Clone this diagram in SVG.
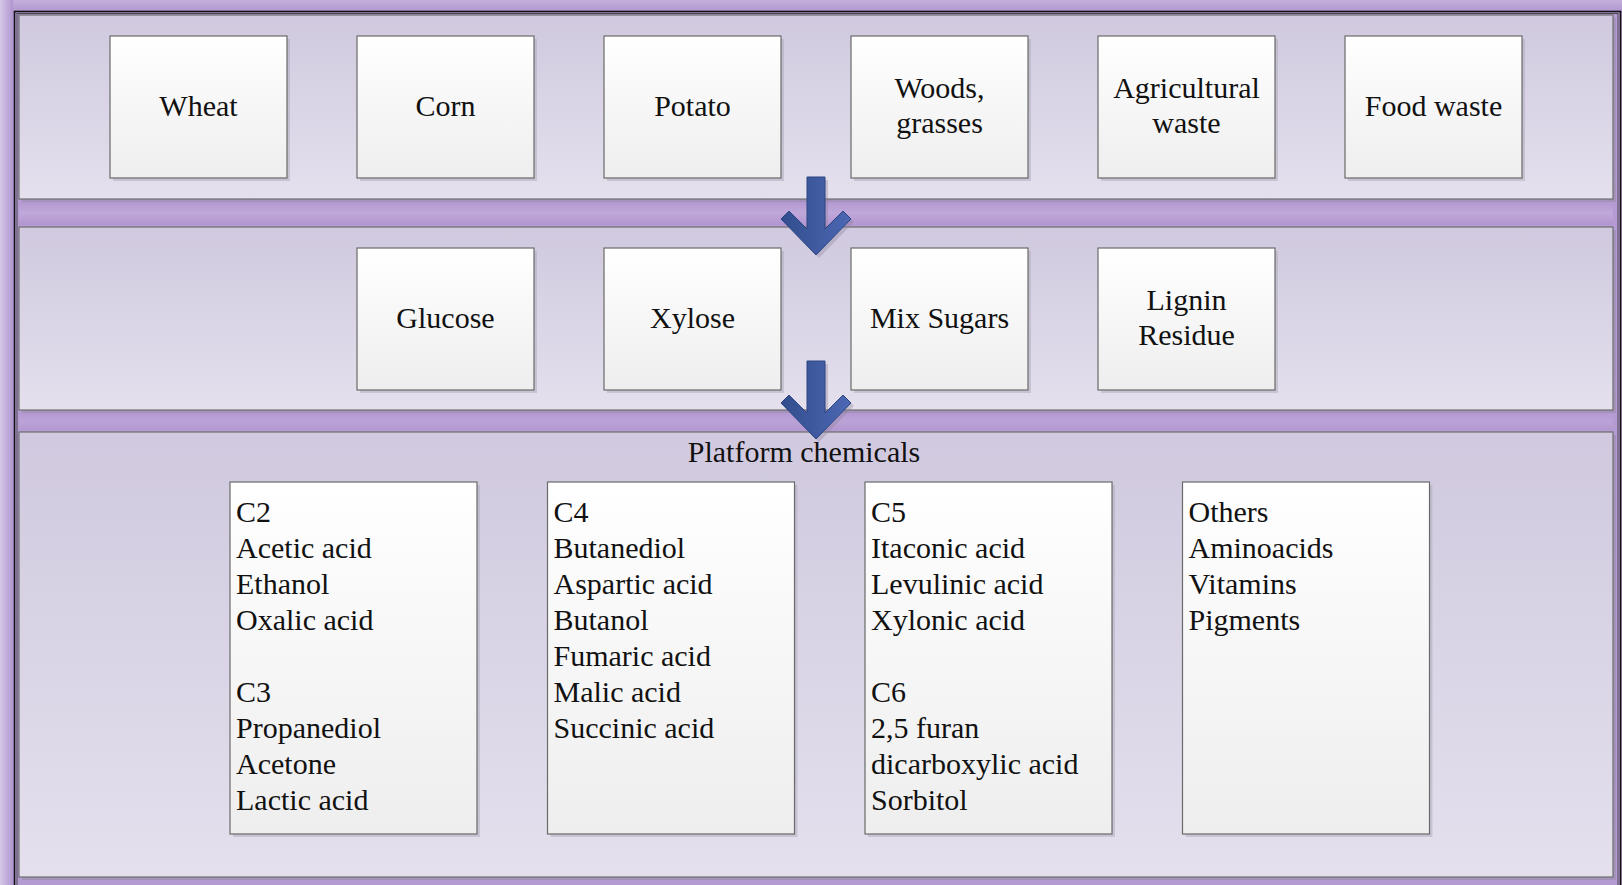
<svg xmlns="http://www.w3.org/2000/svg" width="1622" height="885" viewBox="0 0 1622 885">
<defs>
<linearGradient id="panelG" x1="0" y1="0" x2="0" y2="1"><stop offset="0" stop-color="#d0c9df"/><stop offset="1" stop-color="#e4e0ed"/></linearGradient>
<linearGradient id="boxG" x1="0" y1="0" x2="0" y2="1"><stop offset="0" stop-color="#ffffff"/><stop offset="1" stop-color="#eeeeee"/></linearGradient>
<linearGradient id="arrowG" x1="0" y1="0" x2="1" y2="0"><stop offset="0" stop-color="#324d8c"/><stop offset="1" stop-color="#4c68b4"/></linearGradient>
<linearGradient id="bandG" x1="0" y1="0" x2="0" y2="1"><stop offset="0" stop-color="#b296d0"/><stop offset="0.5" stop-color="#c0a8da"/><stop offset="1" stop-color="#b296d0"/></linearGradient>
<linearGradient id="leftG" x1="0" y1="0" x2="1" y2="0"><stop offset="0" stop-color="#d6c8e6"/><stop offset="1" stop-color="#b096d0"/></linearGradient>
<linearGradient id="topG" x1="0" y1="0" x2="0" y2="1"><stop offset="0" stop-color="#c4b0dc"/><stop offset="1" stop-color="#b298d0"/></linearGradient>
</defs>
<style>
.panel{fill:url(#panelG);stroke:#6e6e6e;stroke-width:1.2}
.pshadow{fill:#9a8cab;opacity:0.6}
.box{fill:url(#boxG);stroke:#6a6a6a;stroke-width:1.2}
.bshadow{fill:#a9a3b6;opacity:0.45}
.arrow{fill:url(#arrowG);stroke:#2c4580;stroke-width:1}
.ashadow{fill:#8a809c;opacity:0.35}
text{font-family:"Liberation Serif","Times New Roman",serif;font-size:30px;fill:#111}
.c{text-anchor:middle}
</style>
<!-- background -->
<rect x="0" y="0" width="1622" height="885" fill="#b49bd2"/>
<rect x="0" y="0" width="1622" height="11" fill="url(#topG)"/>
<rect x="0" y="0" width="13" height="885" fill="url(#leftG)"/>
<rect x="14.5" y="11.5" width="1606" height="880" fill="none" stroke="#111" stroke-width="1.6"/>
<rect x="17" y="13.5" width="1601" height="880" fill="none" stroke="#333" stroke-width="0.8"/>
<rect x="19" y="201" width="1594" height="24" fill="url(#bandG)"/>
<rect x="19" y="412" width="1594" height="18" fill="url(#bandG)" opacity="0.6"/>
<!-- panels -->
<g id="panel1"><rect class="pshadow" x="22" y="18" width="1594" height="184"/><rect class="panel" x="19" y="15" width="1594" height="184"/></g>
<g id="panel2"><rect class="pshadow" x="22" y="230" width="1594" height="183"/><rect class="panel" x="19" y="227" width="1594" height="183"/></g>
<g id="panel3"><rect class="pshadow" x="22" y="435" width="1594" height="445"/><rect class="panel" x="19" y="432" width="1594" height="445"/>
<text class="c" x="804" y="462">Platform chemicals</text></g>
<!-- row 1 -->
<g id="wheat"><rect class="bshadow" x="113" y="39" width="177" height="142"/><rect class="box" x="110" y="36" width="177" height="142"/><text class="c" x="198.5" y="116">Wheat</text></g>
<g id="corn"><rect class="bshadow" x="360" y="39" width="177" height="142"/><rect class="box" x="357" y="36" width="177" height="142"/><text class="c" x="445.5" y="116">Corn</text></g>
<g id="potato"><rect class="bshadow" x="607" y="39" width="177" height="142"/><rect class="box" x="604" y="36" width="177" height="142"/><text class="c" x="692.5" y="116">Potato</text></g>
<g id="woods"><rect class="bshadow" x="854" y="39" width="177" height="142"/><rect class="box" x="851" y="36" width="177" height="142"/><text class="c" x="939.5" y="98">Woods,</text><text class="c" x="939.5" y="133">grasses</text></g>
<g id="agri"><rect class="bshadow" x="1101" y="39" width="177" height="142"/><rect class="box" x="1098" y="36" width="177" height="142"/><text class="c" x="1186.5" y="98">Agricultural</text><text class="c" x="1186.5" y="133">waste</text></g>
<g id="food"><rect class="bshadow" x="1348" y="39" width="177" height="142"/><rect class="box" x="1345" y="36" width="177" height="142"/><text class="c" x="1433.5" y="116">Food waste</text></g>
<!-- row 2 -->
<g id="glucose"><rect class="bshadow" x="360" y="251" width="177" height="142"/><rect class="box" x="357" y="248" width="177" height="142"/><text class="c" x="445.5" y="328">Glucose</text></g>
<g id="xylose"><rect class="bshadow" x="607" y="251" width="177" height="142"/><rect class="box" x="604" y="248" width="177" height="142"/><text class="c" x="692.5" y="328">Xylose</text></g>
<g id="mix"><rect class="bshadow" x="854" y="251" width="177" height="142"/><rect class="box" x="851" y="248" width="177" height="142"/><text class="c" x="939.5" y="328">Mix Sugars</text></g>
<g id="lignin"><rect class="bshadow" x="1101" y="251" width="177" height="142"/><rect class="box" x="1098" y="248" width="177" height="142"/><text class="c" x="1186.5" y="310">Lignin</text><text class="c" x="1186.5" y="345">Residue</text></g>
<!-- row 3 -->
<g id="c2c3"><rect class="bshadow" x="233" y="485" width="247" height="352"/><rect class="box" x="230" y="482" width="247" height="352"/>
<text x="236" y="522">C2</text><text x="236" y="558">Acetic acid</text><text x="236" y="594">Ethanol</text><text x="236" y="630">Oxalic acid</text>
<text x="236" y="702">C3</text><text x="236" y="738">Propanediol</text><text x="236" y="774">Acetone</text><text x="236" y="810">Lactic acid</text></g>
<g id="c4"><rect class="bshadow" x="550.5" y="485" width="247" height="352"/><rect class="box" x="547.5" y="482" width="247" height="352"/>
<text x="553.5" y="522">C4</text><text x="553.5" y="558">Butanediol</text><text x="553.5" y="594">Aspartic acid</text><text x="553.5" y="630">Butanol</text>
<text x="553.5" y="666">Fumaric acid</text><text x="553.5" y="702">Malic acid</text><text x="553.5" y="738">Succinic acid</text></g>
<g id="c5c6"><rect class="bshadow" x="868" y="485" width="247" height="352"/><rect class="box" x="865" y="482" width="247" height="352"/>
<text x="871" y="522">C5</text><text x="871" y="558">Itaconic acid</text><text x="871" y="594">Levulinic acid</text><text x="871" y="630">Xylonic acid</text>
<text x="871" y="702">C6</text><text x="871" y="738">2,5 furan</text><text x="871" y="774">dicarboxylic acid</text><text x="871" y="810">Sorbitol</text></g>
<g id="others"><rect class="bshadow" x="1185.5" y="485" width="247" height="352"/><rect class="box" x="1182.5" y="482" width="247" height="352"/>
<text x="1188.5" y="522">Others</text><text x="1188.5" y="558">Aminoacids</text><text x="1188.5" y="594">Vitamins</text><text x="1188.5" y="630">Pigments</text></g>
<!-- connectors -->
<g id="connectors">
<polygon class="ashadow" transform="translate(3,3)" points="807,177 825,177 825,229 843,211 851,219 816,255 781,219 789,211 807,229"/>
<polygon class="arrow" points="807,177 825,177 825,229 843,211 851,219 816,255 781,219 789,211 807,229"/>
<polygon class="ashadow" transform="translate(3,187)" points="807,177 825,177 825,229 843,211 851,219 816,255 781,219 789,211 807,229"/>
<polygon class="arrow" transform="translate(0,184)" points="807,177 825,177 825,229 843,211 851,219 816,255 781,219 789,211 807,229"/>
</g>
</svg>
